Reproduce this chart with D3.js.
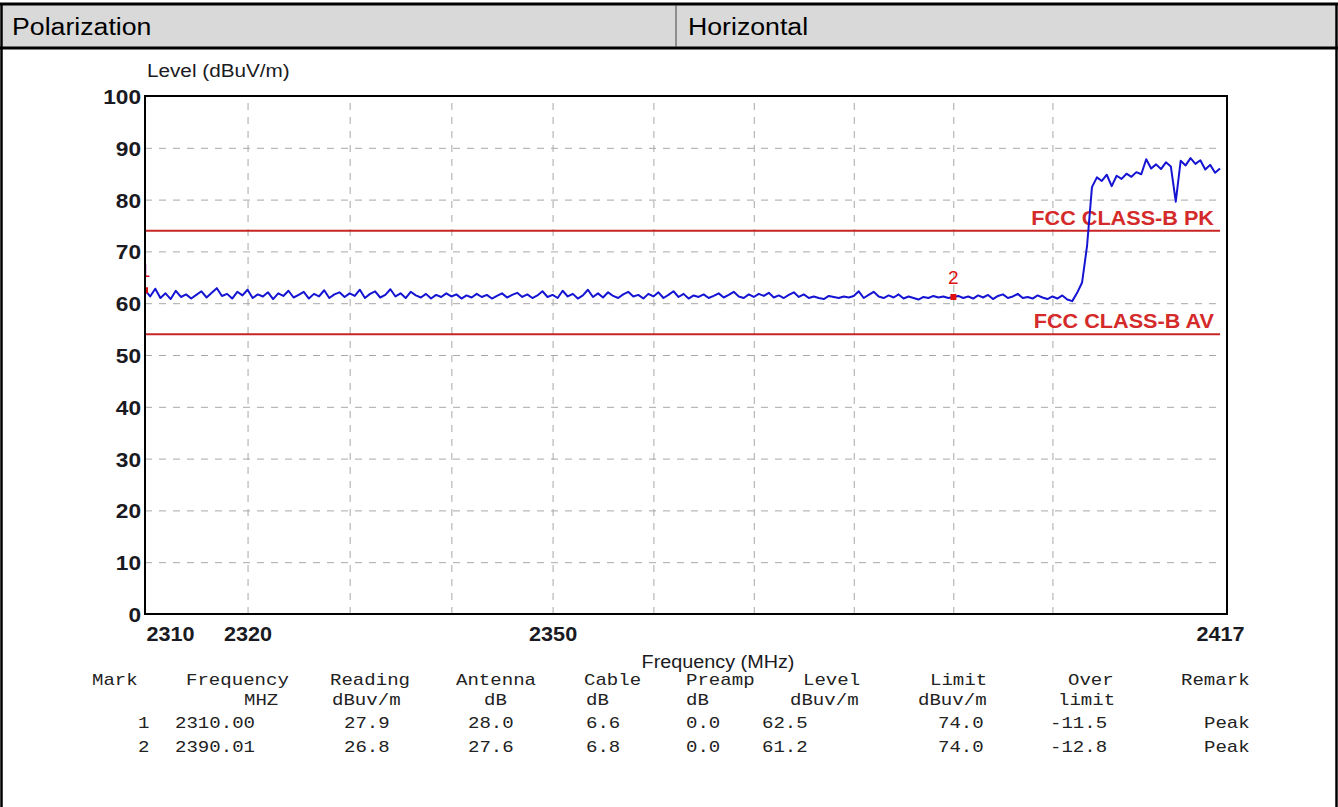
<!DOCTYPE html>
<html><head><meta charset="utf-8">
<script src="https://cdn.jsdelivr.net/npm/d3@7"></script>
<style>
html,body{margin:0;padding:0;background:#fff;}
svg{display:block;}
</style></head><body>
<svg id="c" width="1338" height="807"></svg>
<script>
// ---------------- data ----------------
const polarizationLabel = "Polarization";
const polarizationValue = "Horizontal";
const yTitle = "Level (dBuV/m)";
const xTitle = "Frequency (MHz)";
const yTicks = [0,10,20,30,40,50,60,70,80,90,100];
const xTickLabels = [2310,2320,2350,2417];
const xGridFreqs = [2320,2330,2340,2350,2360,2370,2380,2390,2400];
const limitNames = ["FCC CLASS-B PK","FCC CLASS-B AV"];
const limitLevels = [74,54];
const sweepStartMHz = 2310;
const sweepStepMHz = 0.5;
const traceLevels = [
 62.5,61.3,62.8,61.0,61.9,60.8,62.4,61.2,61.7,60.9,61.6,62.3,61.1,62.0,62.9,61.4,61.8,60.9,62.2,61.5,
 62.6,61.0,61.7,61.3,62.1,60.8,61.9,61.4,62.4,61.1,61.6,62.2,60.9,61.8,61.3,62.5,61.0,61.7,62.1,61.2,
 61.9,61.4,62.6,61.0,61.8,62.3,61.1,61.6,62.7,61.3,61.9,61.0,62.2,61.5,61.1,61.8,60.9,61.6,61.2,61.9,
 61.3,61.7,60.9,61.5,61.1,61.8,61.2,61.6,60.9,61.4,61.9,61.1,61.6,62.0,61.2,61.7,61.0,61.5,62.3,61.2,
 61.6,61.0,62.4,61.3,61.8,60.9,61.5,62.6,61.2,61.9,61.1,62.1,61.4,61.0,61.7,62.2,61.3,61.6,60.9,61.8,
 61.3,62.1,61.0,61.6,62.3,61.2,61.8,60.9,61.5,61.2,61.7,61.0,61.4,61.9,61.1,61.6,62.2,61.3,61.0,61.7,
 61.2,61.8,61.4,62.0,61.1,61.5,61.0,61.6,62.1,61.2,61.7,61.0,61.3,61.0,60.8,61.4,61.2,61.0,61.3,61.1,
 61.4,62.3,61.0,61.6,62.2,61.3,61.0,61.5,61.1,61.7,60.9,61.3,61.0,60.7,61.2,61.0,61.4,61.1,61.3,61.0,
 61.2,61.4,61.0,61.3,60.9,61.5,61.1,61.6,60.8,61.4,61.7,61.0,61.3,61.8,61.0,61.2,60.9,61.5,61.1,60.8,
 61.3,60.9,61.5,60.7,60.4,62.0,64.0,71.0,82.4,84.3,83.6,84.8,82.6,84.6,84.0,85.0,84.4,85.3,84.9,87.8,
 86.0,86.8,85.9,87.2,86.4,79.6,87.5,86.6,88.0,86.9,87.6,85.8,86.7,85.2,86.0
];
const markerIds = ["1","2"];
const markerFreqs = [2310.00, 2390.01];
const markerLevels = [62.5, 61.2];
const tableHeaders = ["Mark","Frequency","Reading","Antenna","Cable","Preamp","Level","Limit","Over","Remark"];
const tableUnits = ["","MHZ","dBuv/m","dB","dB","dB","dBuv/m","dBuv/m","limit",""];
const row1 = ["1","2310.00","27.9","28.0","6.6","0.0","62.5","74.0","-11.5","Peak"];
const row2 = ["2","2390.01","26.8","27.6","6.8","0.0","61.2","74.0","-12.8","Peak"];

// ---------------- layout ----------------
const W = 1338, H = 807;
const P = {left:145, right:1220, frameRight:1227, top:96, bottom:614};
const headerX = [92, 186, 330, 456, 584, 686, 803, 930, 1068, 1181];
const unitX   = [0, 244, 332, 484, 586, 686, 790, 918, 1058, 0];
const rowX    = [138, 175, 344, 468, 586, 686, 762, 938, 1050, 1204];
const rowY = [685, 705, 728, 752];

const svg = d3.select("#c");
function stretch(sel, k){
  sel.each(function(){
    const w = this.getComputedTextLength();
    if (w>0) d3.select(this).attr("textLength", w*k).attr("lengthAdjust","spacingAndGlyphs");
  });
}

// ---------------- page frame ----------------
svg.append("rect").attr("x",0).attr("y",0).attr("width",W).attr("height",H).attr("fill","#fff");
svg.append("rect").attr("x",2).attr("y",5).attr("width",W-4).attr("height",43).attr("fill","#d9d9d9");
svg.append("line").attr("x1",0).attr("x2",W).attr("y1",4).attr("y2",4).attr("stroke","#000").attr("stroke-width",3);
svg.append("line").attr("x1",0).attr("x2",W).attr("y1",48).attr("y2",48).attr("stroke","#000").attr("stroke-width",3);
svg.append("line").attr("x1",1.5).attr("x2",1.5).attr("y1",3).attr("y2",H).attr("stroke","#000").attr("stroke-width",2.5);
svg.append("line").attr("x1",W-1.5).attr("x2",W-1.5).attr("y1",3).attr("y2",H).attr("stroke","#000").attr("stroke-width",2.5);
svg.append("line").attr("x1",676).attr("x2",676).attr("y1",5).attr("y2",47).attr("stroke","#444").attr("stroke-width",1);
svg.append("text").attr("x",12).attr("y",35).attr("font-family","Liberation Sans, Arial, sans-serif")
  .attr("font-size",23).attr("fill","#000").text(polarizationLabel).call(stretch,1.16);
svg.append("text").attr("x",688).attr("y",35).attr("font-family","Liberation Sans, Arial, sans-serif")
  .attr("font-size",23).attr("fill","#000").text(polarizationValue).call(stretch,1.16);

// ---------------- scales ----------------
const x = d3.scaleLog().domain([2310,2417]).range([P.left,P.right]);
const y = d3.scaleLinear().domain([0,100]).range([P.bottom,P.top]);

const g = svg.append("g");
svg.append("defs").append("clipPath").attr("id","clip")
  .append("rect").attr("x",P.left).attr("y",P.top).attr("width",P.frameRight-P.left).attr("height",P.bottom-P.top);

// grid
g.append("g").attr("transform",`translate(0,${P.bottom})`)
  .call(d3.axisBottom(x).tickValues(xGridFreqs).tickSize(-(P.bottom-P.top)).tickFormat(""))
  .call(s=>s.select(".domain").remove())
  .call(s=>s.selectAll("line").attr("stroke","#a8a8a8").attr("stroke-width",1).attr("stroke-dasharray","7,7"));
g.append("g").attr("transform",`translate(${P.left},0)`)
  .call(d3.axisLeft(y).tickValues(yTicks.filter(v=>v>0&&v<100)).tickSize(-(P.right-P.left)).tickFormat(""))
  .call(s=>s.select(".domain").remove())
  .call(s=>s.selectAll("line").attr("stroke","#a8a8a8").attr("stroke-width",1).attr("stroke-dasharray","7,7"));

// limit lines
const limG = g.append("g");
limitLevels.forEach((lv,i)=>{
  limG.append("line").attr("x1",P.left).attr("x2",P.right).attr("y1",y(lv)).attr("y2",y(lv))
    .attr("stroke","#c82424").attr("stroke-width",2);
  limG.append("text").attr("x",P.right-6).attr("y",y(lv)-6).attr("text-anchor","end")
    .attr("font-family","Liberation Sans, Arial, sans-serif").attr("font-weight","bold")
    .attr("font-size",21).attr("fill","#d42a2a").text(limitNames[i]).call(stretch,1.03);
});

// trace
const traceData = traceLevels.map((v,i)=>({f: sweepStartMHz + i*sweepStepMHz, v}));
g.append("path").datum(traceData).attr("clip-path","url(#clip)")
  .attr("fill","none").attr("stroke","#1414d2").attr("stroke-width",2).attr("stroke-linejoin","round")
  .attr("d", d3.line().x(d=>x(d.f)).y(d=>y(d.v)));

// markers
const mk = g.append("g").attr("clip-path","url(#clip)");
markerIds.forEach((id,i)=>{
  mk.append("rect").attr("x",x(markerFreqs[i])-3).attr("y",y(markerLevels[i])-3).attr("width",6).attr("height",6).attr("fill","#e01010");
  mk.append("text").attr("x",x(markerFreqs[i])).attr("y",y(markerLevels[i])-13).attr("text-anchor","middle")
    .attr("font-family","Liberation Sans, Arial, sans-serif").attr("font-size",19).attr("fill","#e01010").text(id);
});

// frame
g.append("rect").attr("x",P.left).attr("y",P.top).attr("width",P.frameRight-P.left).attr("height",P.bottom-P.top)
  .attr("fill","none").attr("stroke","#000").attr("stroke-width",2);

// y axis labels
g.append("g").attr("transform",`translate(${P.left},0)`)
  .call(d3.axisLeft(y).tickValues(yTicks).tickSize(0).tickPadding(4).tickFormat(d3.format("d")))
  .call(s=>s.select(".domain").remove())
  .call(s=>s.selectAll("text").attr("font-family","Liberation Sans, Arial, sans-serif").attr("font-weight","bold")
     .attr("font-size",21).attr("fill","#1a1a22").attr("dy","0.36em").call(stretch,1.08));

// x axis labels
g.append("g").attr("transform",`translate(0,${P.bottom})`)
  .call(d3.axisBottom(x).tickValues(xTickLabels).tickSize(0).tickPadding(12).tickFormat(d3.format("d")))
  .call(s=>s.select(".domain").remove())
  .call(s=>s.selectAll("text").attr("font-family","Liberation Sans, Arial, sans-serif").attr("font-weight","bold")
     .attr("font-size",21).attr("fill","#1a1a22")
     .attr("text-anchor",d=>d===2310?"start":"middle").attr("x",d=>d===2310?1:0).call(stretch,1.03));

// titles
svg.append("text").attr("x",P.left+2).attr("y",77).attr("font-family","Liberation Sans, Arial, sans-serif")
  .attr("font-size",18).attr("fill","#1a1a22").text(yTitle).call(stretch,1.15);
svg.append("text").attr("x",718).attr("y",668).attr("text-anchor","middle")
  .attr("font-family","Liberation Sans, Arial, sans-serif")
  .attr("font-size",18).attr("fill","#1a1a22").text(xTitle).call(stretch,1.1);

// table
const tg = svg.append("g").attr("font-family","Courier New, Liberation Mono, monospace").attr("font-size",17).attr("fill","#222");
function rowText(arr, xs, yy){
  arr.forEach((t,i)=>{ if(t) tg.append("text").attr("x",xs[i]).attr("y",yy).text(t).call(stretch,1.12); });
}
rowText(tableHeaders, headerX, rowY[0]);
rowText(tableUnits, unitX, rowY[1]);
rowText(row1, rowX, rowY[2]);
rowText(row2, rowX, rowY[3]);
</script>
</body></html>
